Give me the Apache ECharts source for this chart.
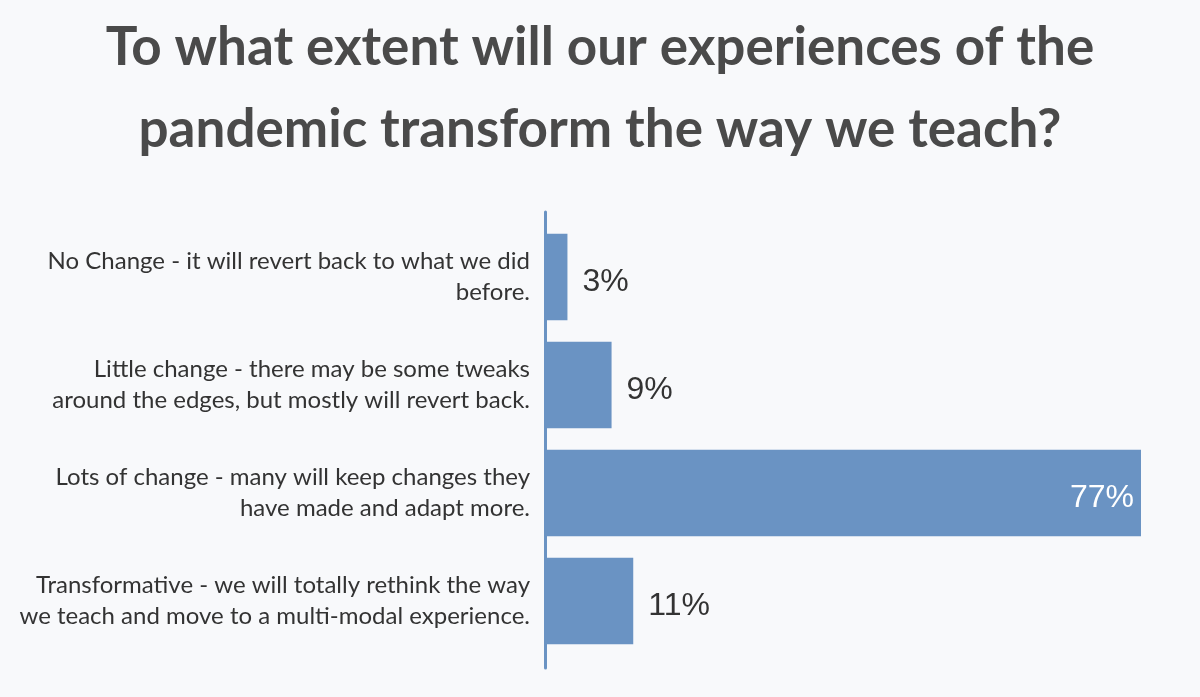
<!DOCTYPE html>
<html>
<head>
<meta charset="utf-8">
<script src="https://cdn.jsdelivr.net/npm/echarts@6/dist/echarts.min.js"></script>
<style>
html,body{margin:0;padding:0;background:#f8f9fb;}
#c{width:1200px;height:697px;}
</style>
</head>
<body>
<div id="c"></div>
<script>
const titleText = "To what extent will our experiences of the\npandemic transform the way we teach?";
const categories = [
  "No Change - it will revert back to what we did\nbefore.",
  "Little change - there may be some tweaks\naround the edges, but mostly will revert back.",
  "Lots of change - many will keep changes they\nhave made and adapt more.",
  "Transformative - we will totally rethink the way\nwe teach and move to a multi-modal experience."
];
const values = [2.9, 8.6, 77, 11.4];

const barColor = '#6a93c3';
const chart = echarts.init(document.getElementById('c'));
const data = values.map(v => v > 50 ? {
  value: v,
  label: {position: 'insideRight', distance: 7, color: '#ffffff'}
} : v);

chart.setOption({
  backgroundColor: '#f8f9fb',
  animation: false,
  title: {
    text: titleText,
    left: 'center',
    top: 2,
    textStyle: {
      fontFamily: 'Lato',
      fontWeight: 'bold',
      fontSize: 53,
      lineHeight: 82,
      color: '#4a4a4a'
    }
  },
  grid: [
    {left: 545, right: 59, top: 223, height: 432},
    {left: 545, width: 10, top: 212, height: 456}
  ],
  xAxis: [
    {gridIndex: 0, type: 'value', min: 0, max: 77, show: false},
    {gridIndex: 1, type: 'value', show: false}
  ],
  yAxis: [
    {
      gridIndex: 0,
      type: 'category',
      inverse: true,
      data: categories,
      axisLine: {show: false},
      axisTick: {show: false},
      axisLabel: {
        margin: 15,
        align: 'right',
        fontFamily: 'Lato',
        fontSize: 24,
        lineHeight: 31,
        color: '#333333'
      }
    },
    {
      gridIndex: 1,
      type: 'value',
      axisLine: {show: true, lineStyle: {color: barColor, width: 3}},
      axisTick: {show: false},
      axisLabel: {show: false},
      splitLine: {show: false}
    }
  ],
  series: [{
    type: 'bar',
    xAxisIndex: 0,
    yAxisIndex: 0,
    data: data,
    barWidth: '80%',
    itemStyle: {color: barColor},
    label: {
      show: true,
      position: 'right',
      distance: 15,
      offset: [0, 5],
      fontFamily: 'Liberation Sans',
      fontSize: 32,
      color: '#333333',
      formatter: p => Math.round(p.value) + '%'
    }
  }]
});
</script>
</body>
</html>
